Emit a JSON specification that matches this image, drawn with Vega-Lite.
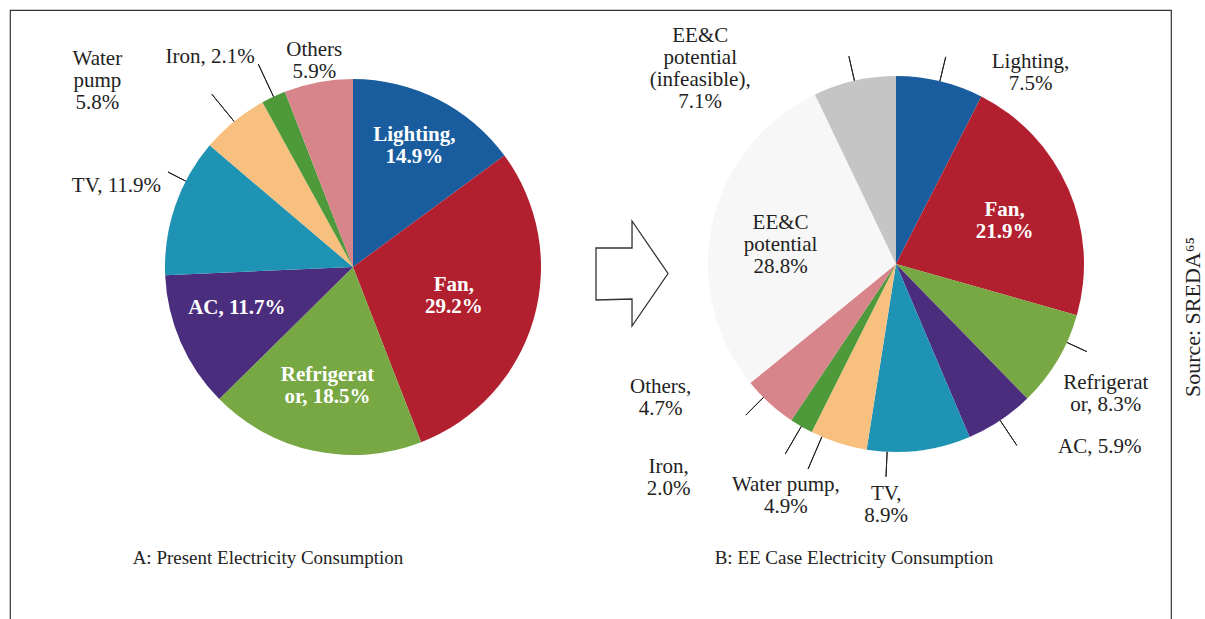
{
  "$schema": "https://vega.github.io/schema/vega-lite/v6.json",
  "width": 1161,
  "height": 609,
  "autosize": {"type": "none"},
  "padding": {"left": 10, "top": 10, "right": 34, "bottom": 0},
  "background": "white",
  "config": {
    "view": {"stroke": "#333333", "strokeWidth": 1.2, "strokeDash": [1770, 1161, 640]},
    "font": "Liberation Serif",
    "text": {"font": "Liberation Serif"}
  },
  "datasets": {
    "shares": [
      {"panel": "A", "cat": "Lighting", "value": 14.9, "order": 1, "label": "Lighting,\n14.9%"},
      {"panel": "A", "cat": "Fan", "value": 29.2, "order": 2, "label": "Fan,\n29.2%"},
      {"panel": "A", "cat": "Refrigerator", "value": 18.5, "order": 3, "label": "Refrigerat\nor, 18.5%"},
      {"panel": "A", "cat": "AC", "value": 11.7, "order": 4, "label": "AC, 11.7%"},
      {"panel": "A", "cat": "TV", "value": 11.9, "order": 5, "label": "TV, 11.9%"},
      {"panel": "A", "cat": "Water pump", "value": 5.8, "order": 6, "label": "Water\npump\n5.8%"},
      {"panel": "A", "cat": "Iron", "value": 2.1, "order": 7, "label": "Iron, 2.1%"},
      {"panel": "A", "cat": "Others", "value": 5.9, "order": 8, "label": "Others\n5.9%"},
      {"panel": "B", "cat": "Lighting", "value": 7.5, "order": 1, "label": "Lighting,\n7.5%"},
      {"panel": "B", "cat": "Fan", "value": 21.9, "order": 2, "label": "Fan,\n21.9%"},
      {"panel": "B", "cat": "Refrigerator", "value": 8.3, "order": 3, "label": "Refrigerat\nor, 8.3%"},
      {"panel": "B", "cat": "AC", "value": 5.9, "order": 4, "label": "AC, 5.9%"},
      {"panel": "B", "cat": "TV", "value": 8.9, "order": 5, "label": "TV,\n8.9%"},
      {"panel": "B", "cat": "Water pump", "value": 4.9, "order": 6, "label": "Water pump,\n4.9%"},
      {"panel": "B", "cat": "Iron", "value": 2.0, "order": 7, "label": "Iron,\n2.0%"},
      {"panel": "B", "cat": "Others", "value": 4.7, "order": 8, "label": "Others,\n4.7%"},
      {"panel": "B", "cat": "EE&C potential", "value": 28.8, "order": 9, "label": "EE&C\npotential\n28.8%"},
      {"panel": "B", "cat": "EE&C potential (infeasible)", "value": 7.1, "order": 10, "label": "EE&C\npotential\n(infeasible),\n7.1%"}
    ],
    "panels": [
      {"panel": "A", "title": "A: Present Electricity Consumption"},
      {"panel": "B", "title": "B: EE Case Electricity Consumption"}
    ],
    "notes": [{"key": "source", "text": "Source: SREDA⁶⁵"}],
    "marker": [{"panel": "arrow"}]
  },
  "layer": [
    {
      "layer": [
        {
          "data": {"name": "shares"},
          "transform": [
            {"stack": "value", "groupby": ["panel"], "sort": [{"field": "order", "order": "ascending"}], "as": ["v0", "v1"]}
          ],
          "mark": {"type": "arc", "radius": 188},
          "encoding": {
            "x": {"field": "panel", "type": "nominal", "scale": {"type": "point", "domain": ["A", "arrow", "B"], "range": [343, 886], "padding": 0}, "axis": null},
            "y": {"field": "panel", "type": "nominal", "scale": {"type": "point", "domain": ["A", "arrow", "B"], "range": [257, 254], "padding": 0}, "axis": null},
            "theta": {"field": "v0", "type": "quantitative", "stack": null, "scale": {"domain": [0, 100], "range": [0, 6.283185307]}},
            "theta2": {"field": "v1"},
            "color": {"field": "cat", "type": "nominal", "legend": null,
              "scale": {"domain": ["Lighting", "Fan", "Refrigerator", "AC", "TV", "Water pump", "Iron", "Others", "EE&C potential", "EE&C potential (infeasible)"],
                "range": ["#1a5d9e", "#b21f2f", "#77a843", "#4b2d7e", "#1f93b4", "#f8c07f", "#4e9a3b", "#d7848a", "#f7f7f7", "#c5c5c5"]}}
          }
        },
        {
          "data": {"name": "shares"},
          "transform": [
            {"stack": "value", "groupby": ["panel"], "sort": [{"field": "order", "order": "ascending"}], "as": ["v0", "v1"]},
            {"calculate": "({'A|Lighting':[0,136,0,0],'A|Fan':[0,105,0,0],'A|Refrigerator':[0,122,0,0],'A|AC':[1.2,123,0,0],'A|TV':[0,250,2.3,20],'A|Water pump':[-4.1,316,0,35],'A|Iron':[-2.55,254,0,36],'A|Others':[0,210,0,0],'B|Lighting':[6,234,0,25],'B|Fan':[0.5,117,0,0],'B|Refrigerator':[0.3,247,-1.7,22],'B|AC':[-4,274,0,30],'B|TV':[2.6,241,2.7,25],'B|Water pump':[2.1,257,1.5,35],'B|Iron':[4.6,312,0,32],'B|Others':[5,271,0.7,25],'B|EE&C potential':[-0.9,117,0,0],'B|EE&C potential (infeasible)':[-9,276,0,25]})[datum.panel + '|' + datum.cat]", "as": "lp"},
            {"filter": "datum.lp[3] > 0"},
            {"calculate": "(datum.v0 + datum.v1) / 2 + datum.lp[2]", "as": "lt"},
            {"calculate": "188", "as": "r0"},
            {"calculate": "188 + datum.lp[3]", "as": "r1"}
          ],
          "mark": {"type": "arc", "stroke": "#222222", "strokeWidth": 1, "fill": null, "filled": false},
          "encoding": {
            "x": {"field": "panel", "type": "nominal", "scale": {"type": "point", "domain": ["A", "arrow", "B"], "range": [343, 886], "padding": 0}, "axis": null},
            "y": {"field": "panel", "type": "nominal", "scale": {"type": "point", "domain": ["A", "arrow", "B"], "range": [257, 254], "padding": 0}, "axis": null},
            "theta": {"field": "lt", "type": "quantitative", "stack": null, "scale": {"domain": [0, 100], "range": [0, 6.283185307]}},
            "theta2": {"field": "lt"},
            "radius": {"field": "r1", "type": "quantitative", "scale": {"type": "linear", "domain": [0, 400], "range": [0, 400], "zero": true}},
            "radius2": {"field": "r0"}
          }
        },
        {
          "data": {"name": "shares"},
          "transform": [
            {"stack": "value", "groupby": ["panel"], "sort": [{"field": "order", "order": "ascending"}], "as": ["v0", "v1"]},
            {"calculate": "({'A|Lighting':[0,136,0,0],'A|Fan':[0,105,0,0],'A|Refrigerator':[0,122,0,0],'A|AC':[1.2,123,0,0],'A|TV':[0,250,2.3,20],'A|Water pump':[-4.1,316,0,35],'A|Iron':[-2.55,254,0,36],'A|Others':[0,210,0,0],'B|Lighting':[6,234,0,25],'B|Fan':[0.5,117,0,0],'B|Refrigerator':[0.3,247,-1.7,22],'B|AC':[-4,274,0,30],'B|TV':[2.6,241,2.7,25],'B|Water pump':[2.1,257,1.5,35],'B|Iron':[4.6,312,0,32],'B|Others':[5,271,0.7,25],'B|EE&C potential':[-0.9,117,0,0],'B|EE&C potential (infeasible)':[-9,276,0,25]})[datum.panel + '|' + datum.cat]", "as": "lp"},
            {"calculate": "((datum.v0 + datum.v1) / 2 + datum.lp[0]) / 100 * 2 * PI", "as": "ang"},
            {"calculate": "length(split(datum.label, '\\n'))", "as": "nl"},
            {"calculate": "datum.lp[1] * sin(datum.ang)", "as": "cx"},
            {"calculate": "-datum.lp[1] * cos(datum.ang) - (datum.nl - 1) * 11", "as": "cy"},
            {"calculate": "(atan2(datum.cx, -datum.cy) / (2 * PI) * 100 + 100) % 100", "as": "la"},
            {"calculate": "sqrt(datum.cx * datum.cx + datum.cy * datum.cy)", "as": "lr"},
            {"filter": "(datum.panel == 'A' && indexof(['Lighting','Fan','Refrigerator','AC'], datum.cat) >= 0) || (datum.panel == 'B' && datum.cat == 'Fan')"}
          ],
          "mark": {"type": "text", "font": "Liberation Serif", "fontSize": 21, "fontWeight": "bold", "lineHeight": 22, "lineBreak": "\n", "align": "center", "baseline": "middle", "color": "white"},
          "encoding": {
            "x": {"field": "panel", "type": "nominal", "scale": {"type": "point", "domain": ["A", "arrow", "B"], "range": [343, 886], "padding": 0}, "axis": null},
            "y": {"field": "panel", "type": "nominal", "scale": {"type": "point", "domain": ["A", "arrow", "B"], "range": [257, 254], "padding": 0}, "axis": null},
            "theta": {"field": "la", "type": "quantitative", "stack": null, "scale": {"domain": [0, 100], "range": [0, 6.283185307]}},
            "radius": {"field": "lr", "type": "quantitative", "scale": {"type": "linear", "domain": [0, 400], "range": [0, 400], "zero": true}},
            "text": {"field": "label", "type": "nominal"}
          }
        },
        {
          "data": {"name": "shares"},
          "transform": [
            {"stack": "value", "groupby": ["panel"], "sort": [{"field": "order", "order": "ascending"}], "as": ["v0", "v1"]},
            {"calculate": "({'A|Lighting':[0,136,0,0],'A|Fan':[0,105,0,0],'A|Refrigerator':[0,122,0,0],'A|AC':[1.2,123,0,0],'A|TV':[0,250,2.3,20],'A|Water pump':[-4.1,316,0,35],'A|Iron':[-2.55,254,0,36],'A|Others':[0,210,0,0],'B|Lighting':[6,234,0,25],'B|Fan':[0.5,117,0,0],'B|Refrigerator':[0.3,247,-1.7,22],'B|AC':[-4,274,0,30],'B|TV':[2.6,241,2.7,25],'B|Water pump':[2.1,257,1.5,35],'B|Iron':[4.6,312,0,32],'B|Others':[5,271,0.7,25],'B|EE&C potential':[-0.9,117,0,0],'B|EE&C potential (infeasible)':[-9,276,0,25]})[datum.panel + '|' + datum.cat]", "as": "lp"},
            {"calculate": "((datum.v0 + datum.v1) / 2 + datum.lp[0]) / 100 * 2 * PI", "as": "ang"},
            {"calculate": "length(split(datum.label, '\\n'))", "as": "nl"},
            {"calculate": "datum.lp[1] * sin(datum.ang)", "as": "cx"},
            {"calculate": "-datum.lp[1] * cos(datum.ang) - (datum.nl - 1) * 11", "as": "cy"},
            {"calculate": "(atan2(datum.cx, -datum.cy) / (2 * PI) * 100 + 100) % 100", "as": "la"},
            {"calculate": "sqrt(datum.cx * datum.cx + datum.cy * datum.cy)", "as": "lr"},
            {"filter": "!((datum.panel == 'A' && indexof(['Lighting','Fan','Refrigerator','AC'], datum.cat) >= 0) || (datum.panel == 'B' && datum.cat == 'Fan'))"}
          ],
          "mark": {"type": "text", "font": "Liberation Serif", "fontSize": 21, "fontWeight": "normal", "lineHeight": 22, "lineBreak": "\n", "align": "center", "baseline": "middle", "color": "#222222"},
          "encoding": {
            "x": {"field": "panel", "type": "nominal", "scale": {"type": "point", "domain": ["A", "arrow", "B"], "range": [343, 886], "padding": 0}, "axis": null},
            "y": {"field": "panel", "type": "nominal", "scale": {"type": "point", "domain": ["A", "arrow", "B"], "range": [257, 254], "padding": 0}, "axis": null},
            "theta": {"field": "la", "type": "quantitative", "stack": null, "scale": {"domain": [0, 100], "range": [0, 6.283185307]}},
            "radius": {"field": "lr", "type": "quantitative", "scale": {"type": "linear", "domain": [0, 400], "range": [0, 400], "zero": true}},
            "text": {"field": "label", "type": "nominal"}
          }
        },
        {
          "data": {"name": "marker"},
          "mark": {"type": "point", "shape": "M-0.538,-0.33L0.142,-0.33L0.142,-0.84L0.821,0.151L0.142,1.142L0.142,0.632L-0.538,0.651Z", "size": 11236, "filled": false, "stroke": "#333333", "strokeWidth": 1.3, "opacity": 1},
          "encoding": {
            "x": {"field": "panel", "type": "nominal", "scale": {"type": "point", "domain": ["A", "arrow", "B"], "range": [343, 886], "padding": 0}, "axis": null},
            "y": {"field": "panel", "type": "nominal", "scale": {"type": "point", "domain": ["A", "arrow", "B"], "range": [257, 254], "padding": 0}, "axis": null}
          }
        }
      ]
    },
    {
      "data": {"name": "panels"},
      "mark": {"type": "text", "font": "Liberation Serif", "fontSize": 19, "align": "center", "baseline": "middle", "color": "#222222"},
      "encoding": {
        "x": {"field": "panel", "type": "nominal", "scale": {"type": "point", "domain": ["A", "B"], "range": [258, 844], "padding": 0}, "axis": null},
        "y": {"field": "panel", "type": "nominal", "scale": {"type": "point", "domain": ["A", "B"], "range": [548, 548], "padding": 0}, "axis": null},
        "text": {"field": "title", "type": "nominal"}
      }
    },
    {
      "data": {"name": "notes"},
      "mark": {"type": "text", "font": "Liberation Serif", "fontSize": 22, "angle": 270, "align": "center", "baseline": "middle", "color": "#222222"},
      "encoding": {
        "x": {"field": "key", "type": "nominal", "scale": {"type": "point", "domain": ["source"], "range": [1183, 1183], "padding": 0}, "axis": null},
        "y": {"field": "key", "type": "nominal", "scale": {"type": "point", "domain": ["source"], "range": [307, 307], "padding": 0}, "axis": null},
        "text": {"field": "text", "type": "nominal"}
      }
    }
  ],
  "resolve": {"scale": {"x": "independent", "y": "independent"}}
}
